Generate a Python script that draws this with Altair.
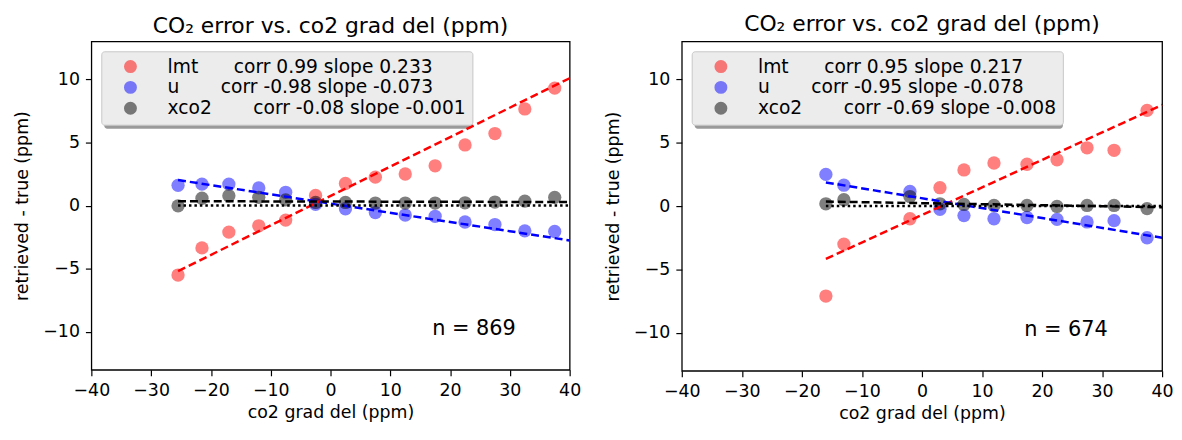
import altair as alt
import pandas as pd

FONT = "DejaVu Sans"

# ---------------- data ----------------
names = ["lmt", "u", "xco2"]
name_pads = [6, 7, 7]
colors = ["#ff0000", "#0000ff", "#000000"]

# left panel
x_left = [-25.5, -21.5, -17.0, -12.0, -7.5, -2.5, 2.5, 7.5, 12.5, 17.5, 22.5, 27.5, 32.5, 37.5]
lmt_left = [-5.5, -3.35, -2.1, -1.6, -1.15, 0.8, 1.75, 2.25, 2.5, 3.15, 4.8, 5.7, 7.65, 9.3]
u_left = [1.6, 1.7, 1.7, 1.4, 1.05, 0.1, -0.25, -0.55, -0.75, -0.85, -1.3, -1.5, -2.0, -2.05]
xco2_left = [-0.02, 0.58, 0.78, 0.65, 0.45, 0.25, 0.25, 0.2, 0.2, 0.2, 0.22, 0.28, 0.35, 0.65]
stats_left = ["corr 0.99 slope 0.233", "corr -0.98 slope -0.073", "corr -0.08 slope -0.001"]
slopes_left = [0.233, -0.073, -0.001]
intercepts_left = [0.76, 0.16, 0.32]
n_left = "n = 869"

# right panel
x_right = [-16.0, -13.0, -2.0, 3.0, 7.0, 12.0, 17.5, 22.5, 27.5, 32.0, 37.5]
lmt_right = [-7.1, -3.0, -1.0, 1.45, 2.85, 3.4, 3.3, 3.65, 4.6, 4.4, 7.55]
u_right = [2.5, 1.65, 1.15, -0.25, -0.75, -1.0, -0.9, -1.05, -1.25, -1.15, -2.5]
xco2_right = [0.18, 0.5, 0.75, 0.18, 0.13, 0.05, 0.05, -0.03, 0.05, 0.05, -0.2]
stats_right = ["corr 0.95 slope 0.217", "corr -0.95 slope -0.078", "corr -0.69 slope -0.008"]
slopes_right = [0.217, -0.078, -0.008]
intercepts_right = [-0.70, 0.62, 0.23]
n_right = "n = 674"

title_text = "CO\u2082 error vs. co2 grad del (ppm)"
x_title = "co2 grad del (ppm)"
y_title = "retrieved - true (ppm)"
x_ticks = [-40, -30, -20, -10, 0, 10, 20, 30, 40]
y_ticks = [-10, -5, 0, 5, 10]
x_dom = [-40, 40]
y_dom = [-13, 13]
n_pos = (24, -9.8)

LEG_W, LEG_H = 371, 75


def panel(xs, series, stats, slopes, intercepts, ntext, width, height, toff):
    labels = [n + "\u00a0" * p + s + "\u00a0" for n, p, s in zip(names, name_pads, stats)]
    rows = []
    for lab, ys in zip(labels, series):
        for x, y in zip(xs, ys):
            rows.append({"x": x, "y": y, "series": lab})
    pts = pd.DataFrame(rows)

    xs_sc = alt.Scale(domain=x_dom, nice=False, zero=False)
    ys_sc = alt.Scale(domain=y_dom, nice=False, zero=False)
    xax = alt.Axis(values=x_ticks, title=x_title, labelFlush=False, labelOverlap=False)
    yax = alt.Axis(values=y_ticks, title=y_title, labelFlush=False, labelOverlap=False)

    # legend drop shadow (decoration, pixel placed under the inside legend)
    shadow = alt.Chart(pd.DataFrame({"k": [0]})).mark_rect(
        color="#9a9a9a", cornerRadius=3
    ).encode(
        x=alt.value(13), x2=alt.value(13 + LEG_W),
        y=alt.value(13), y2=alt.value(13 + LEG_H),
    )

    points = alt.Chart(pts).mark_circle(size=180, opacity=0.5).encode(
        x=alt.X("x:Q", scale=xs_sc, axis=xax),
        y=alt.Y("y:Q", scale=ys_sc, axis=yax),
        color=alt.Color(
            "series:N",
            scale=alt.Scale(domain=labels, range=colors),
            legend=alt.Legend(
                title=None, orient="top-left", offset=10,
                fillColor="#ececec", strokeColor="#c8c8c8", cornerRadius=3,
                padding=6, labelFont=FONT, labelFontSize=18.8, labelLimit=600,
                labelColor="#000000", symbolSize=170, symbolOpacity=0.5,
                symbolStrokeWidth=0, symbolType="circle", symbolOffset=14,
                labelOffset=28, rowPadding=1,
            ),
        ),
    )

    x0 = min(xs)
    layers = [shadow, points]
    for c, s, b in zip(colors, slopes, intercepts):
        ld = pd.DataFrame({"x": [x0, x_dom[1]], "y": [b + s * x0, b + s * x_dom[1]]})
        layers.append(
            alt.Chart(ld).mark_line(color=c, strokeWidth=2.5, strokeDash=[8, 4]).encode(
                x=alt.X("x:Q", scale=xs_sc), y=alt.Y("y:Q", scale=ys_sc)
            )
        )
    zd = pd.DataFrame({"x": [x0, x_dom[1]], "y": [0, 0]})
    layers.append(
        alt.Chart(zd).mark_line(color="#000000", strokeWidth=2.5, strokeDash=[2.5, 3]).encode(
            x=alt.X("x:Q", scale=xs_sc), y=alt.Y("y:Q", scale=ys_sc)
        )
    )
    td = pd.DataFrame({"x": [n_pos[0]], "y": [n_pos[1]], "t": [ntext]})
    layers.append(
        alt.Chart(td).mark_text(font=FONT, fontSize=21, color="#000000",
                                align="center", baseline="middle").encode(
            x=alt.X("x:Q", scale=xs_sc), y=alt.Y("y:Q", scale=ys_sc), text="t:N"
        )
    )
    return alt.layer(*layers).properties(
        width=width, height=height,
        title=alt.TitleParams(title_text, font=FONT, fontSize=22, fontWeight="normal",
                              color="#000000", offset=toff, anchor="middle"),
    )


left = panel(x_left, [lmt_left, u_left, xco2_left], stats_left, slopes_left,
             intercepts_left, n_left, 482, 331, 3)
right = panel(x_right, [lmt_right, u_right, xco2_right], stats_right, slopes_right,
              intercepts_right, n_right, 484, 332, 5)

chart = alt.hconcat(left, right, spacing=22).resolve_scale(color="independent").properties(
    padding={"left": 5, "top": 3, "right": 0, "bottom": 0}
).configure_view(stroke="#000000", strokeWidth=1.3).configure_axis(
    grid=False, domain=False, labelFont=FONT, labelFontSize=17.5, labelColor="#000000",
    tickColor="#000000", tickSize=6, tickWidth=1.2, labelPadding=6,
    titleFont=FONT, titleFontSize=17.5, titleFontWeight="normal", titleColor="#000000",
    titlePadding=5,
).configure_axisY(titlePadding=11)

chart.save("out.html", embed_options={"renderer": "svg", "actions": False})
